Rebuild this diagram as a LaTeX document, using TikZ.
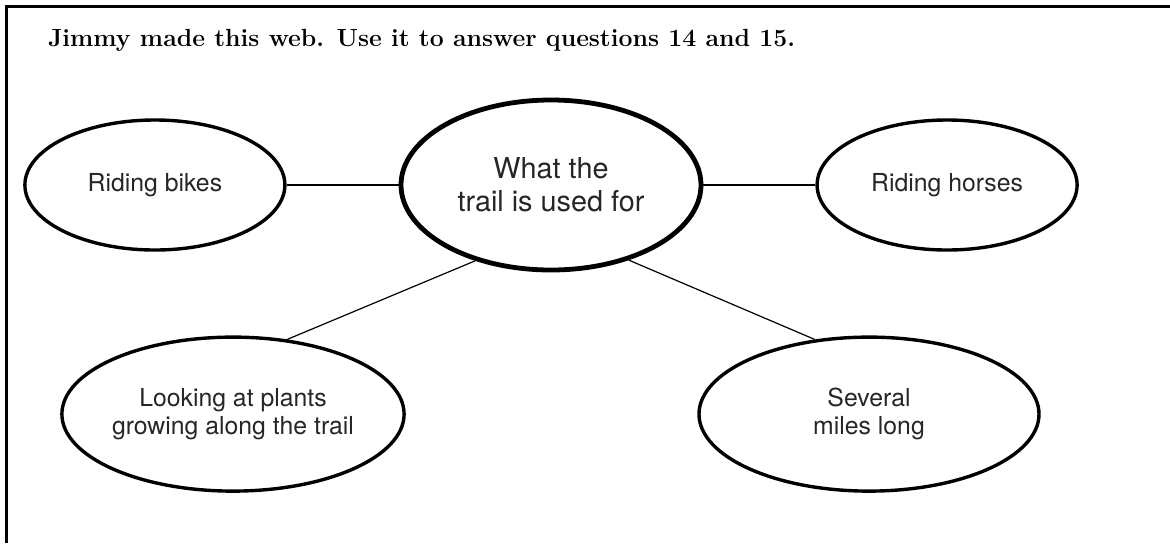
\documentclass[tikz,border=0pt]{standalone}
\usepackage{fontspec}
\setsansfont{TeX Gyre Heros}
\usetikzlibrary{shapes.geometric,positioning}

\begin{document}
\begin{tikzpicture}[
  hub/.style={ellipse, draw=black, line width=2.4pt, inner sep=0pt,
              minimum width=150pt, minimum height=85pt, align=center,
              text=black!85, font=\sffamily\fontsize{14.4}{16.7}\selectfont},
  leaf/.style={ellipse, draw=black, line width=1.7pt, inner sep=0pt,
               minimum width=130pt, minimum height=65pt, align=center,
               text=black!85, font=\sffamily\fontsize{12.4}{14.2}\selectfont},
  wideleaf/.style={leaf, minimum width=170pt, minimum height=77pt},
  link/.style={draw=black, line width=0.6pt},
  heading/.style={anchor=base west, font=\rmfamily\bfseries\fontsize{12.4}{14}\selectfont},
]

\useasboundingbox (-275.5pt,-179pt) rectangle (309.5pt,92.5pt);
\draw[line width=1.5pt] (-272.25pt,-179pt) |- (309.5pt,89.25pt);

\node[heading] (title) at (-255pt,69.25pt) {Jimmy made this web. Use it to answer questions 14 and 15.};

\node[hub] (hub) at (0,0) {What the\\trail is used for};
\node[leaf, left=56pt of hub]  (bikes)  {Riding bikes};
\node[leaf, right=56pt of hub] (horses) {Riding horses};
\node[wideleaf, below=31.5pt of hub, xshift=-159pt] (plants) {Looking at plants\\growing along the trail};
\node[wideleaf, below=31.5pt of hub, xshift=159pt]  (miles)  {Several\\miles long};

\draw[link] (bikes) -- (hub);
\draw[link] (hub) -- (horses);
\draw[link] (hub.225) -- (plants.54);
\draw[link] (hub.316) -- (miles.126);

\end{tikzpicture}
\end{document}
